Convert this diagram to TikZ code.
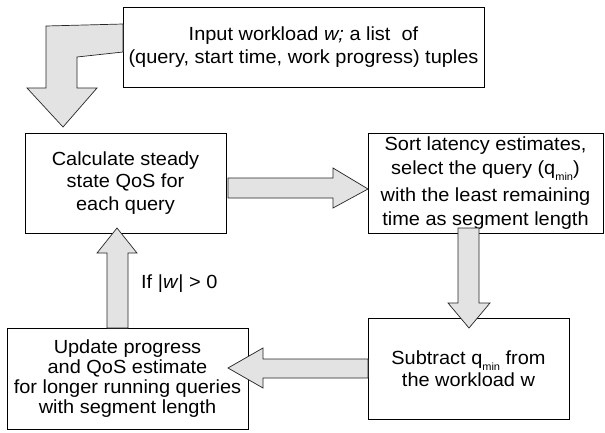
\documentclass[tikz,border=0pt]{standalone}
\usepackage{fontspec}
\setmainfont[FakeStretch=1.05]{Liberation Sans}
\newcommand\qminsub{q\raisebox{-6pt}[0pt][0pt]{\fontsize{10.5}{10.5}\selectfont min}}
\definecolor{arrowfill}{HTML}{E3E3E3}
\begin{document}
\begin{tikzpicture}[x=1pt,y=-1pt,
  box/.style={draw=black, line width=0.8pt, fill=white, align=center, inner sep=0pt,
    font=\fontsize{19}{22.5}\selectfont},
  barrow/.style={draw=black!85, line width=0.7pt, fill=arrowfill, line join=miter},
  lbl/.style={anchor=west, inner sep=0pt, font=\fontsize{19}{22.5}\selectfont}]
\useasboundingbox (0,0) rectangle (605,432);
\fill[white] (0,0) rectangle (605,432);

% boxes
\node[box, minimum width=361pt, minimum height=80pt] (input) at (303.5,47)
  {Input workload \textit{w;} a list\ \ of\\(query, start time, work progress) tuples};
\node[box, minimum width=201pt, minimum height=100pt] (calc) at (125.5,183)
  {Calculate steady\\state QoS for\\each query};
\node[box, minimum width=235pt, minimum height=100pt, font=\fontsize{19}{24}\selectfont] (sort) at (485.5,183)
  {Sort latency estimates,\\select the query (\qminsub)\\[3pt]with the least remaining\\time as segment length};
\node[box, minimum width=201pt, minimum height=101pt] (sub) at (468.5,368.5)
  {Subtract \qminsub{} from\\the workload w};
\node[box, minimum width=241pt, minimum height=101pt, font=\fontsize{19}{20}\selectfont] (upd) at (127.5,378.5)
  {Update progress\\and QoS estimate\\for longer running queries\\with segment length};

% block arrows
% input -> calc (bent)
\draw[barrow] (123,24) -- (46,26) -- (46,88) -- (27,88) -- (63,127) -- (97,88)
  -- (77,88) -- (77,57) -- (123,52) -- cycle;
% calc -> sort
\draw[barrow] (228,178) -- (333,178) -- (333,168) -- (368,189) -- (333,208)
  -- (333,198) -- (228,198) -- cycle;
% sort -> sub
\draw[barrow] (458,228) -- (479,228) -- (479,303) -- (490,303) -- (469,328)
  -- (448,303) -- (458,303) -- cycle;
% sub -> upd
\draw[barrow] (368,359) -- (263,359) -- (263,348) -- (228,368) -- (263,388)
  -- (263,378) -- (368,378) -- cycle;
% upd -> calc
\draw[barrow] (107,328) -- (107,253) -- (97,253) -- (117,228) -- (137,253)
  -- (128,253) -- (128,328) -- cycle;

\node[lbl] (cond) at (141,284) {If |\textit{w}| > 0};
\end{tikzpicture}
\end{document}
